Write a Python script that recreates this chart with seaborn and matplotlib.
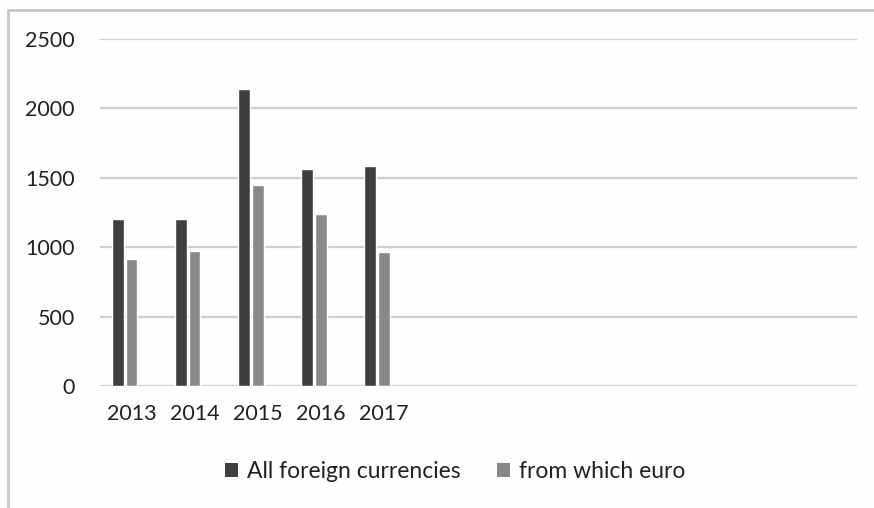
import matplotlib
matplotlib.use("Agg")
import matplotlib.pyplot as plt
from matplotlib.lines import Line2D
from matplotlib.patches import Patch
import pandas as pd
import seaborn as sns

# Yearly totals
years = ["2013", "2014", "2015", "2016", "2017"]
all_foreign = [1205, 1205, 2143, 1566, 1585]
euro = [918, 976, 1448, 1236, 965]

series_names = ["All foreign currencies", "from which euro"]
# a third, unused series slot keeps each pair left of the year label
hue_levels = series_names + ["(spare)"]
y_ticks = [0, 500, 1000, 1500, 2000, 2500]
n_slots = 12  # category slots on the horizontal axis

colors = {"All foreign currencies": "#3f3f3f",
          "from which euro": "#898989",
          "(spare)": "#ffffff"}

df = pd.DataFrame({
    "year": years * 2,
    "value": all_foreign + euro,
    "series": [series_names[0]] * len(years) + [series_names[1]] * len(years),
})

sns.set_theme(style="white")
plt.rcParams["font.family"] = ["Lato", "DejaVu Sans"]

fig = plt.figure(figsize=(8.74, 5.08), dpi=100)
fig.patch.set_facecolor("#fefefe")
ax = fig.add_axes([100 / 874, 1 - 386 / 508, 757 / 874, 347 / 508])
ax.set_facecolor("#fefefe")

sns.barplot(data=df, x="year", y="value", hue="series", order=years,
            hue_order=hue_levels, palette=colors, width=0.645, gap=0.14,
            saturation=1, legend=False, ax=ax)

ax.set_xlim(-0.5, n_slots - 0.5)
ax.set_ylim(0, 2500)
ax.set_yticks(y_ticks)
ax.set_yticklabels([str(v) for v in y_ticks])
ax.yaxis.grid(True, color="#cfcfcf", linewidth=1.6)
ax.set_axisbelow(True)
for s in ax.spines.values():
    s.set_visible(False)
ax.set_xlabel("")
ax.set_ylabel("")
ax.tick_params(axis="y", length=0, pad=18, labelsize=15.5, labelcolor="#222222")
ax.tick_params(axis="x", length=0, pad=13, labelsize=15.5, labelcolor="#222222")

handles = [Patch(facecolor=colors[n], edgecolor="none") for n in series_names]
fig.legend(handles, series_names, loc="center", bbox_to_anchor=(0.521, 1 - 472 / 508),
           ncol=2, frameon=False, fontsize=16.5, handlelength=0.55, handleheight=0.55,
           handletextpad=0.4, columnspacing=1.6, labelcolor="#222222")

# chart-area frame (left and top edges)
bx = 8 / 874
by = 1 - 10 / 508
fig.add_artist(Line2D([bx, bx, 1.0], [0.0, by, by], transform=fig.transFigure,
                      color="#c6c6c6", linewidth=2))

fig.savefig("out.png", dpi=100, facecolor=fig.get_facecolor())
